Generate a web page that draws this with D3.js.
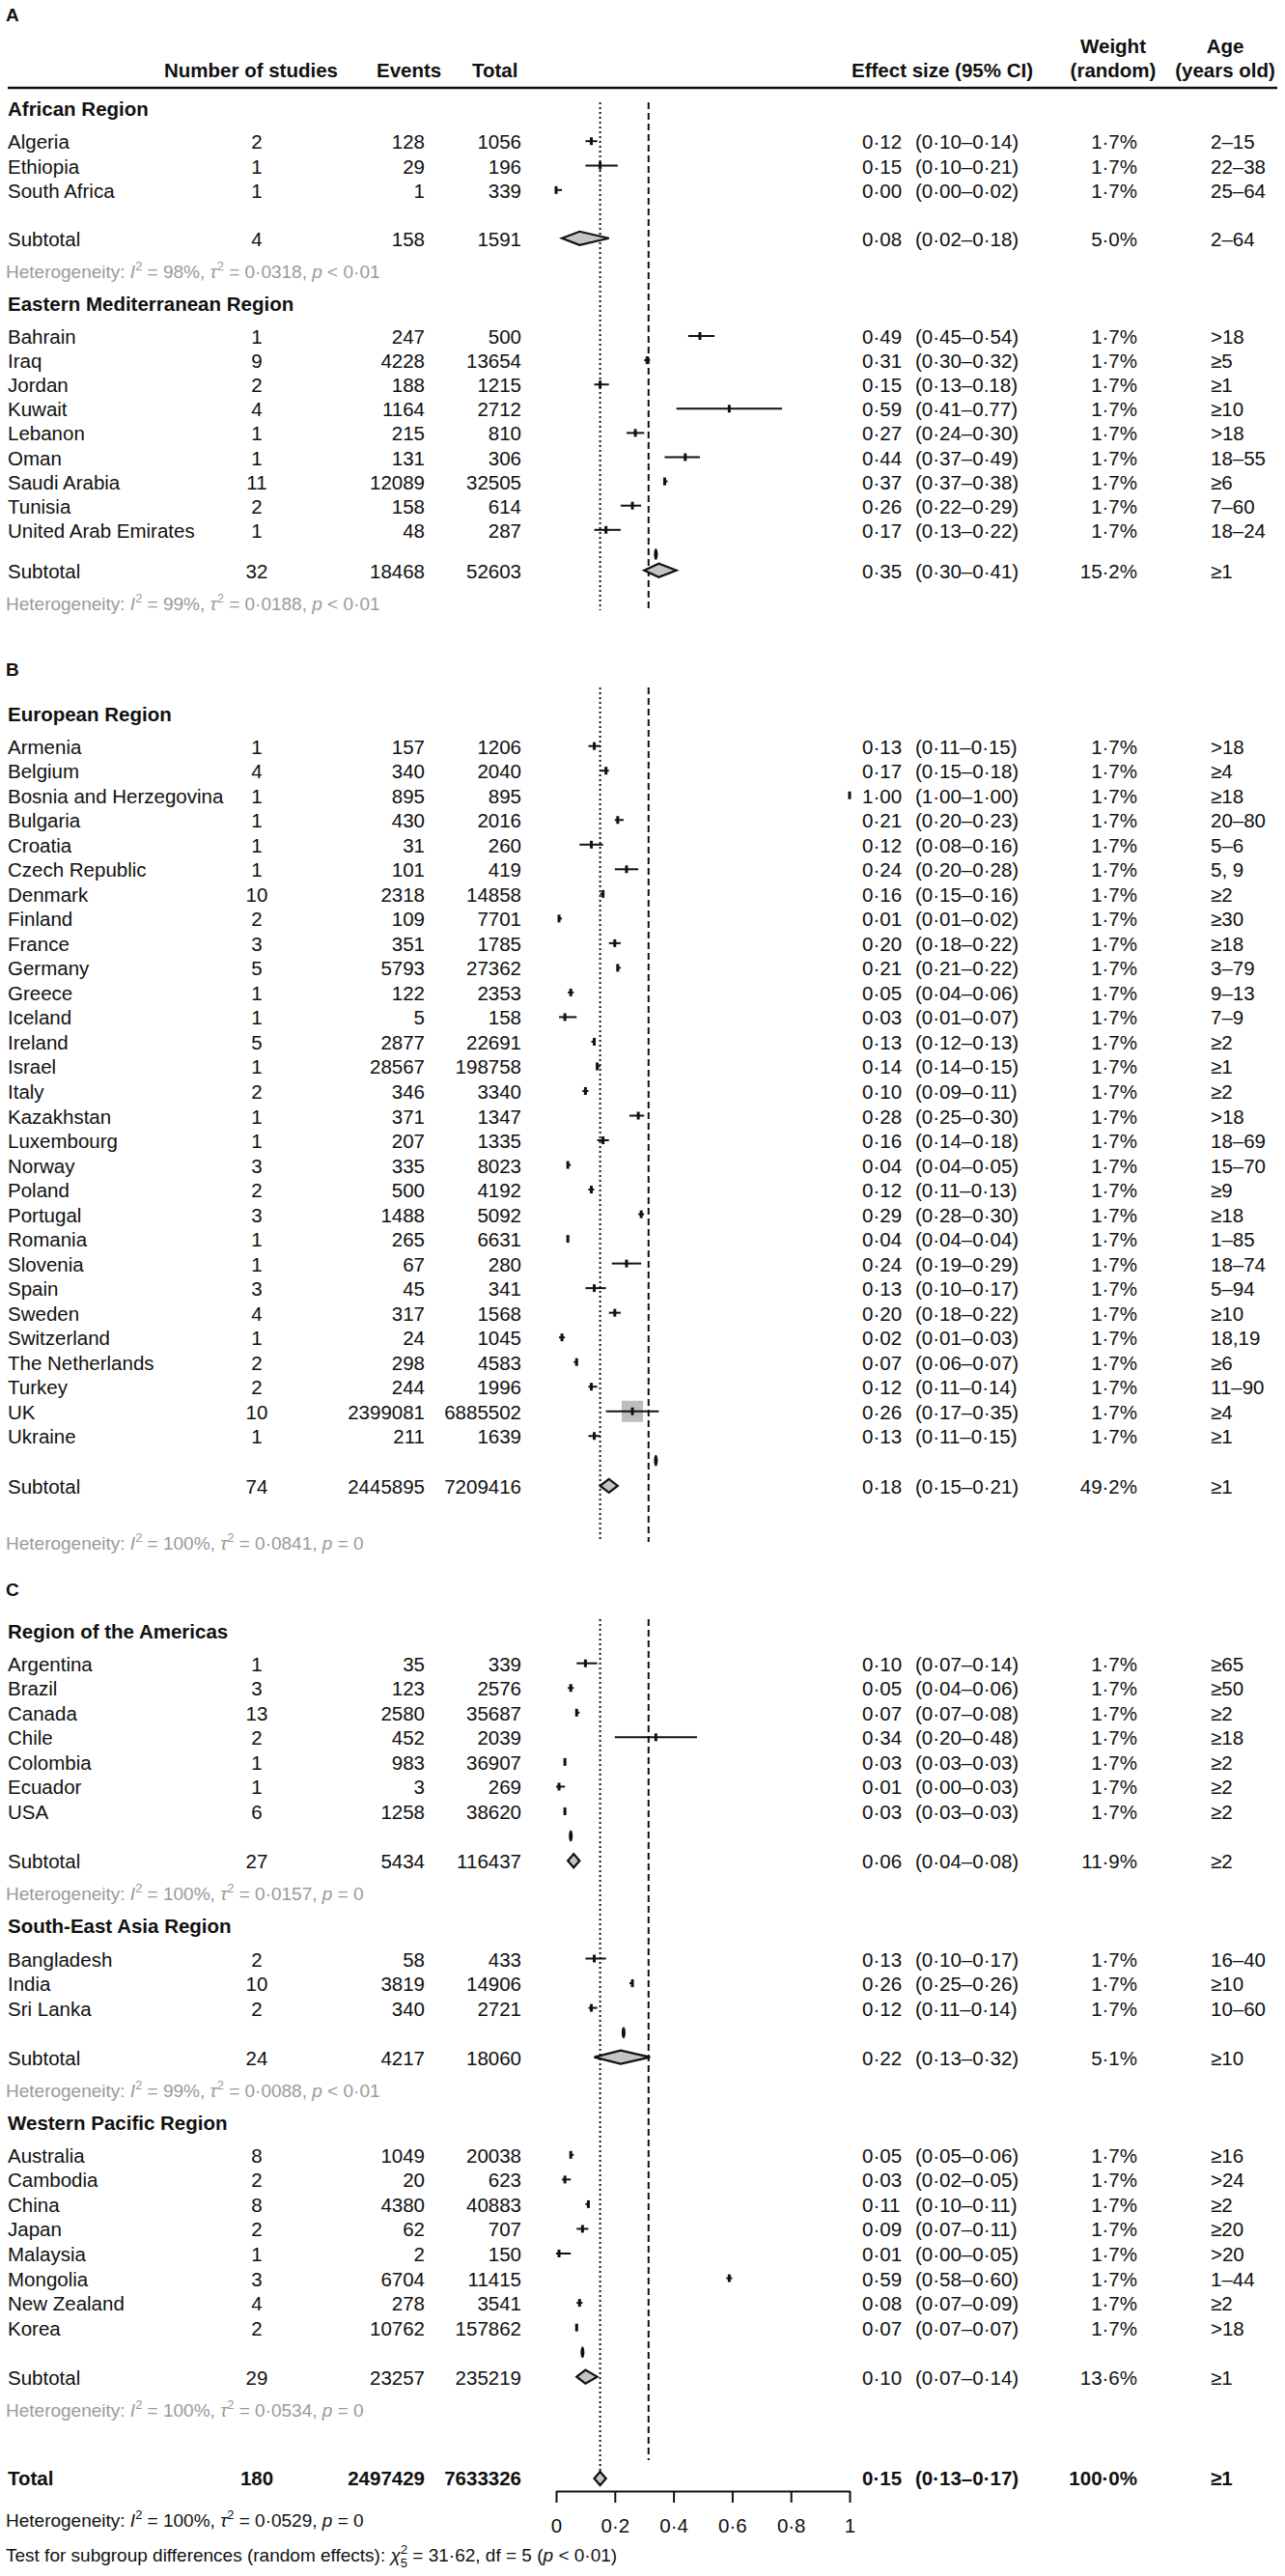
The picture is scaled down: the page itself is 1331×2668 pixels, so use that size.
<!DOCTYPE html>
<html><head><meta charset="utf-8">
<script src="https://cdn.jsdelivr.net/npm/d3@7"></script>
<style>body{margin:0;background:#fff}svg{display:block}</style>
</head><body>
<script>
// ---------------- DATA ----------------
const regions = ["African Region","Eastern Mediterranean Region","European Region","Region of the Americas","South-East Asia Region","Western Pacific Region"];
const panelOf = ["A","A","B","C","C","C"];
const countries = [
 ["Algeria","Ethiopia","South Africa"],
 ["Bahrain","Iraq","Jordan","Kuwait","Lebanon","Oman","Saudi Arabia","Tunisia","United Arab Emirates"],
 ["Armenia","Belgium","Bosnia and Herzegovina","Bulgaria","Croatia","Czech Republic","Denmark","Finland","France","Germany","Greece","Iceland","Ireland","Israel","Italy","Kazakhstan","Luxembourg","Norway","Poland","Portugal","Romania","Slovenia","Spain","Sweden","Switzerland","The Netherlands","Turkey","UK","Ukraine"],
 ["Argentina","Brazil","Canada","Chile","Colombia","Ecuador","USA"],
 ["Bangladesh","India","Sri Lanka"],
 ["Australia","Cambodia","China","Japan","Malaysia","Mongolia","New Zealand","Korea"]
];
const nStudies = [
 [2,1,1],
 [1,9,2,4,1,1,11,2,1],
 [1,4,1,1,1,1,10,2,3,5,1,1,5,1,2,1,1,3,2,3,1,1,3,4,1,2,2,10,1],
 [1,3,13,2,1,1,6],
 [2,10,2],
 [8,2,8,2,1,3,4,2]
];
const events = [
 [128,29,1],
 [247,4228,188,1164,215,131,12089,158,48],
 [157,340,895,430,31,101,2318,109,351,5793,122,5,2877,28567,346,371,207,335,500,1488,265,67,45,317,24,298,244,2399081,211],
 [35,123,2580,452,983,3,1258],
 [58,3819,340],
 [1049,20,4380,62,2,6704,278,10762]
];
const totals = [
 [1056,196,339],
 [500,13654,1215,2712,810,306,32505,614,287],
 [1206,2040,895,2016,260,419,14858,7701,1785,27362,2353,158,22691,198758,3340,1347,1335,8023,4192,5092,6631,280,341,1568,1045,4583,1996,6885502,1639],
 [339,2576,35687,2039,36907,269,38620],
 [433,14906,2721],
 [20038,623,40883,707,150,11415,3541,157862]
];
const est = [
 [0.12,0.15,0.00],
 [0.49,0.31,0.15,0.59,0.27,0.44,0.37,0.26,0.17],
 [0.13,0.17,1.00,0.21,0.12,0.24,0.16,0.01,0.20,0.21,0.05,0.03,0.13,0.14,0.10,0.28,0.16,0.04,0.12,0.29,0.04,0.24,0.13,0.20,0.02,0.07,0.12,0.26,0.13],
 [0.10,0.05,0.07,0.34,0.03,0.01,0.03],
 [0.13,0.26,0.12],
 [0.05,0.03,0.11,0.09,0.01,0.59,0.08,0.07]
];
const ciLow = [
 [0.10,0.10,0.00],
 [0.45,0.30,0.13,0.41,0.24,0.37,0.37,0.22,0.13],
 [0.11,0.15,1.00,0.20,0.08,0.20,0.15,0.01,0.18,0.21,0.04,0.01,0.12,0.14,0.09,0.25,0.14,0.04,0.11,0.28,0.04,0.19,0.10,0.18,0.01,0.06,0.11,0.17,0.11],
 [0.07,0.04,0.07,0.20,0.03,0.00,0.03],
 [0.10,0.25,0.11],
 [0.05,0.02,0.10,0.07,0.00,0.58,0.07,0.07]
];
const ciHigh = [
 [0.14,0.21,0.02],
 [0.54,0.32,0.18,0.77,0.30,0.49,0.38,0.29,0.22],
 [0.15,0.18,1.00,0.23,0.16,0.28,0.16,0.02,0.22,0.22,0.06,0.07,0.13,0.15,0.11,0.30,0.18,0.05,0.13,0.30,0.04,0.29,0.17,0.22,0.03,0.07,0.14,0.35,0.15],
 [0.14,0.06,0.08,0.48,0.03,0.03,0.03],
 [0.17,0.26,0.14],
 [0.06,0.05,0.11,0.11,0.05,0.60,0.09,0.07]
];
// upper limits printed with a plain full stop in the original
const plainStopHigh = ["Jordan","Kuwait"];
const weights = [
 [1.7,1.7,1.7],
 [1.7,1.7,1.7,1.7,1.7,1.7,1.7,1.7,1.7],
 [1.7,1.7,1.7,1.7,1.7,1.7,1.7,1.7,1.7,1.7,1.7,1.7,1.7,1.7,1.7,1.7,1.7,1.7,1.7,1.7,1.7,1.7,1.7,1.7,1.7,1.7,1.7,1.7,1.7],
 [1.7,1.7,1.7,1.7,1.7,1.7,1.7],
 [1.7,1.7,1.7],
 [1.7,1.7,1.7,1.7,1.7,1.7,1.7,1.7]
];
const ages = [
 ["2–15","22–38","25–64"],
 [">18","≥5","≥1","≥10",">18","18–55","≥6","7–60","18–24"],
 [">18","≥4","≥18","20–80","5–6","5, 9","≥2","≥30","≥18","3–79","9–13","7–9","≥2","≥1","≥2",">18","18–69","15–70","≥9","≥18","1–85","18–74","5–94","≥10","18,19","≥6","11–90","≥4","≥1"],
 ["≥65","≥50","≥2","≥18","≥2","≥2","≥2"],
 ["16–40","≥10","10–60"],
 ["≥16",">24","≥2","≥20",">20","1–44","≥2",">18"]
];
const subStudies = [4,32,74,27,24,29];
const subEvents = [158,18468,2445895,5434,4217,23257];
const subTotals = [1591,52603,7209416,116437,18060,235219];
const subEst = [0.08,0.35,0.18,0.06,0.22,0.10];
const subLow = [0.02,0.30,0.15,0.04,0.13,0.07];
const subHigh = [0.18,0.41,0.21,0.08,0.32,0.14];
const subWeight = [5.0,15.2,49.2,11.9,5.1,13.6];
const subAge = ["2–64","≥1","≥1","≥2","≥10","≥1"];
// common-effect (fixed) subgroup estimates, read from the thin marks in the plot
const fixedEst = [null,0.34,0.34,0.05,0.23,0.09];
const hetI2 = [98,99,100,100,99,100];
const hetTau2 = [0.0318,0.0188,0.0841,0.0157,0.0088,0.0534];
const hetP = ["< 0·01","< 0·01","= 0","= 0","< 0·01","= 0"];
const overall = {studies:180, events:2497429, total:7633326, est:0.15, low:0.13, high:0.17, weight:100.0, age:"≥1", i2:100, tau2:0.0529, p:"= 0"};
const overallFixed = 0.315;
const subgroupTest = {chi2:31.62, df:5, p:"< 0·01"};
const axisTicks = [0,0.2,0.4,0.6,0.8,1];

// ---------------- HELPERS ----------------
const dot = s => s.replace(".", "·");
const f2 = v => dot(v.toFixed(2));
const fPct = v => dot(v.toFixed(1)) + "%";
const fTick = v => (v === 0 || v === 1) ? String(v) : dot(v.toFixed(1));

const W = 1331, H = 2668;
const svg = d3.select("body").append("svg").attr("width", W).attr("height", H)
  .style("font-family", "'Liberation Sans', Arial, Helvetica, sans-serif");
svg.append("rect").attr("width", W).attr("height", H).attr("fill", "#fff");

const x = d3.scaleLinear().domain([0, 1]).range([576, 880]);
const FS = 20.5, HFS = 19;
const INK = "#111", GREY = "#9a9a9a";
const COL = {name: 8, studies: 266, events: 440, total: 540, est: 893, ci: 948, weight: 1178, age: 1254};

function txt(xp, y, s, anchor, opts = {}) {
  return svg.append("text").attr("x", xp).attr("y", y)
    .attr("text-anchor", anchor || "start")
    .attr("fill", opts.fill || INK)
    .style("font-size", (opts.size || FS) + "px")
    .style("font-weight", opts.bold ? "bold" : "normal")
    .text(s);
}

function rowText(y, name, st, ev, tot, e, l, h, w, age, bold, highStop) {
  const o = {bold};
  txt(COL.name, y, name, "start", o);
  txt(COL.studies, y, st, "middle", o);
  txt(COL.events, y, ev, "end", o);
  txt(COL.total, y, tot, "end", o);
  txt(COL.est, y, f2(e), "start", o);
  const hs = highStop ? h.toFixed(2) : f2(h);
  txt(COL.ci, y, "(" + f2(l) + "–" + hs + ")", "start", o);
  txt(COL.weight, y, fPct(w), "end", o);
  txt(COL.age, y, age, "start", o);
}

function diamond(y, e, l, h, hh) {
  const pts = [[x(l), y], [x(e), y - hh], [x(h), y], [x(e), y + hh]];
  svg.append("path").attr("d", "M" + pts.map(p => p.join(",")).join("L") + "Z")
    .attr("fill", "#c4c4c4").attr("stroke", "#111").attr("stroke-width", 2.2)
    .attr("stroke-linejoin", "miter");
}

function hetText(y, i2, tau2, p, fill) {
  const t = svg.append("text").attr("x", 6).attr("y", y).attr("fill", fill)
    .style("font-size", HFS + "px");
  const small = (HFS * 0.68) + "px";
  t.append("tspan").text("Heterogeneity: ");
  t.append("tspan").style("font-style", "italic").text("I");
  t.append("tspan").attr("dy", -8).style("font-size", small).text("2");
  t.append("tspan").attr("dy", 8).text(" = " + i2 + "%, ");
  t.append("tspan").style("font-style", "italic").text("τ");
  t.append("tspan").attr("dy", -8).style("font-size", small).text("2");
  t.append("tspan").attr("dy", 8).text(" = " + dot(tau2.toFixed(4)) + ", ");
  t.append("tspan").style("font-style", "italic").text("p");
  t.append("tspan").text(" " + p);
}

// ---------------- HEADER ----------------
txt(170, 80, "Number of studies", "start", {bold: true});
txt(390, 80, "Events", "start", {bold: true});
txt(489, 80, "Total", "start", {bold: true});
txt(882, 80, "Effect size (95% CI)", "start", {bold: true});
txt(1153, 55, "Weight", "middle", {bold: true});
txt(1153, 80, "(random)", "middle", {bold: true});
txt(1269, 55, "Age", "middle", {bold: true});
txt(1269, 80, "(years old)", "middle", {bold: true});
svg.append("line").attr("x1", 8).attr("x2", 1323).attr("y1", 91).attr("y2", 91)
  .attr("stroke", "#111").attr("stroke-width", 2.5);

// ---------------- PANELS ----------------
const panelLayout = {
  A: {label: 22, header: 120, steps: [25.3, 25.1], subGap: [50, 42], hetGap: [41, 41], lineTop: 106, lineBottom: 632},
  B: {label: 700, header: 746.5, steps: [25.52], subGap: [51.7], hetGap: [66], lineTop: 712, lineBottom: 1597},
  C: {label: 1653, header: 1696.5, steps: [25.55, 25.55, 25.55], subGap: [51.3, 51, 51], hetGap: [41, 41, 41], lineTop: 1677, lineBottom: 2560}
};

["A", "B", "C"].forEach(pn => {
  const L = panelLayout[pn];
  txt(6, L.label, pn, "start", {bold: true, size: 19});
  // reference lines: random-effects overall (dotted) and common-effect overall (dashed)
  svg.append("line").attr("x1", x(overall.est)).attr("x2", x(overall.est))
    .attr("y1", L.lineTop).attr("y2", L.lineBottom)
    .attr("stroke", "#111").attr("stroke-width", 2).attr("stroke-dasharray", "2,3");
  svg.append("line").attr("x1", x(overallFixed)).attr("x2", x(overallFixed))
    .attr("y1", L.lineTop).attr("y2", pn === "C" ? 2548 : L.lineBottom)
    .attr("stroke", "#111").attr("stroke-width", 2).attr("stroke-dasharray", "7,4");

  let hb = L.header;
  const gIdx = regions.map((r, i) => i).filter(i => panelOf[i] === pn);
  gIdx.forEach((g, k) => {
    txt(8, hb, regions[g], "start", {bold: true});
    const step = L.steps[k];
    const y0 = hb + 26.2;
    let yLast = y0;
    countries[g].forEach((c, j) => {
      const y = y0 + j * step;
      yLast = y;
      rowText(y + 8, c, nStudies[g][j], events[g][j], totals[g][j], est[g][j], ciLow[g][j], ciHigh[g][j], weights[g][j], ages[g][j], false, plainStopHigh.includes(c));
      if (totals[g][j] > 1e6) {
        svg.append("rect").attr("x", x(est[g][j]) - 11).attr("y", y - 11).attr("width", 22).attr("height", 22)
          .attr("fill", "#bdbdbd");
      }
      svg.append("line").attr("x1", x(ciLow[g][j])).attr("x2", Math.max(x(ciHigh[g][j]), x(ciLow[g][j]) + 1))
        .attr("y1", y).attr("y2", y).attr("stroke", "#111").attr("stroke-width", 2);
      svg.append("rect").attr("x", x(est[g][j]) - 1.5).attr("y", y - 4).attr("width", 3).attr("height", 8)
        .attr("fill", "#111");
    });
    if (fixedEst[g] !== null) {
      svg.append("ellipse").attr("cx", x(fixedEst[g])).attr("cy", yLast + step)
        .attr("rx", 2).attr("ry", 6).attr("fill", "#111");
    }
    const ys = yLast + L.subGap[k];
    rowText(ys + 8, "Subtotal", subStudies[g], subEvents[g], subTotals[g], subEst[g], subLow[g], subHigh[g], subWeight[g], subAge[g], false, false);
    diamond(ys, subEst[g], subLow[g], subHigh[g], 7);
    const hy = ys + L.hetGap[k];
    hetText(hy, hetI2[g], hetTau2[g], hetP[g], GREY);
    hb = hy + 34;
  });
});

// ---------------- TOTAL ----------------
const yT = 2567;
rowText(yT + 7, "Total", overall.studies, overall.events, overall.total, overall.est, overall.low, overall.high, overall.weight, overall.age, true, false);
diamond(yT, overall.est, overall.low, overall.high, 7);
hetText(2617, overall.i2, overall.tau2, overall.p, INK);

// subgroup test
const tt = svg.append("text").attr("x", 6).attr("y", 2653).attr("fill", INK).style("font-size", HFS + "px");
tt.append("tspan").text("Test for subgroup differences (random effects): ");
tt.append("tspan").style("font-style", "italic").text("χ");
tt.append("tspan").attr("dy", -8).style("font-size", (HFS * 0.68) + "px").text("2");
tt.append("tspan").attr("dx", -7.2).attr("dy", 14).style("font-size", (HFS * 0.68) + "px").text(subgroupTest.df);
tt.append("tspan").attr("dy", -6).text(" = " + dot(subgroupTest.chi2.toFixed(2)) + ", df = " + subgroupTest.df + " (");
tt.append("tspan").style("font-style", "italic").text("p");
tt.append("tspan").text(" " + subgroupTest.p + ")");

// ---------------- AXIS ----------------
const ax = svg.append("g").attr("transform", "translate(0,2580)")
  .call(d3.axisBottom(x).tickValues(axisTicks).tickFormat(fTick).tickSize(12).tickSizeOuter(0).tickPadding(16));
ax.select(".domain").attr("stroke", "#111").attr("stroke-width", 2);
ax.selectAll(".tick line").attr("stroke", "#111").attr("stroke-width", 2);
ax.selectAll(".tick text").attr("fill", INK).style("font-size", FS + "px")
  .style("font-family", "'Liberation Sans', Arial, sans-serif");
</script>
</body></html>
